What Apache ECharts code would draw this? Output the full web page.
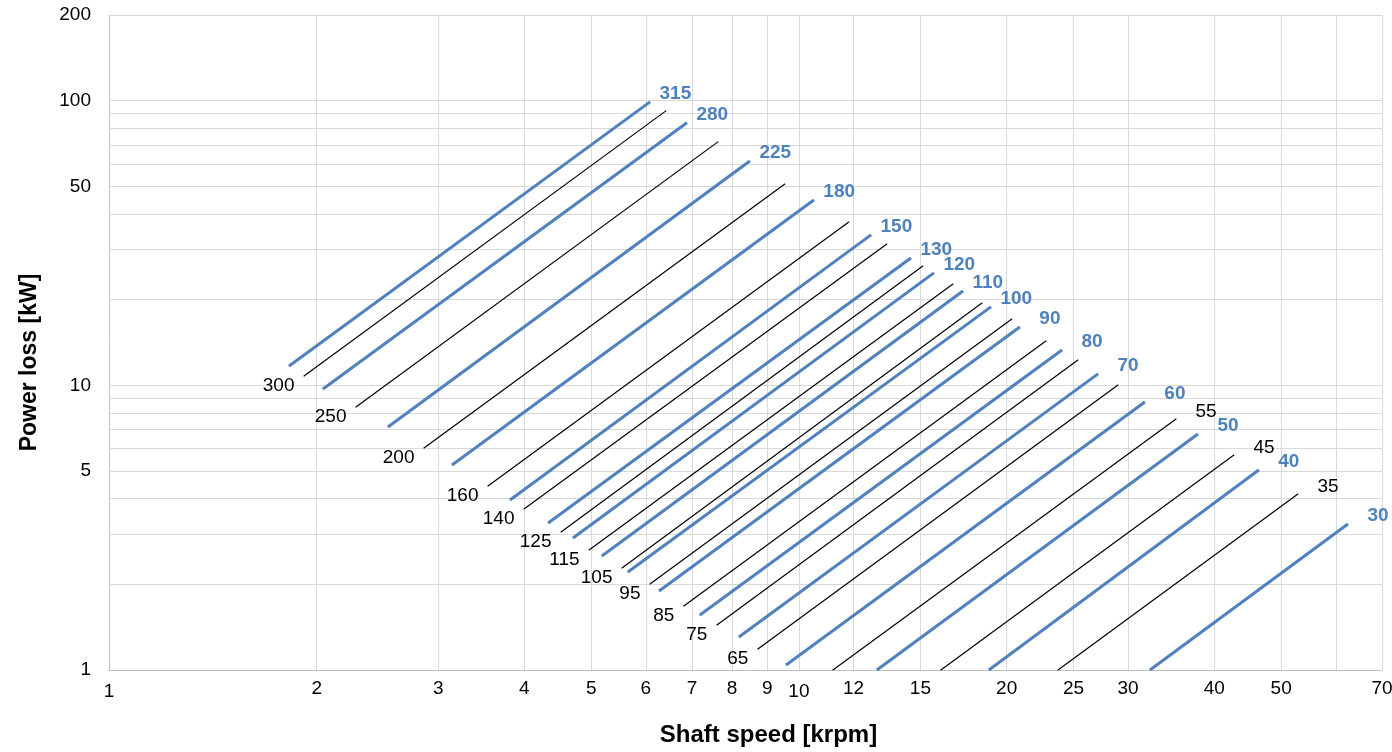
<!DOCTYPE html>
<html>
<head>
<meta charset="utf-8">
<script src="https://cdn.jsdelivr.net/npm/echarts@6/dist/echarts.min.js"></script>
<style>
html,body{margin:0;padding:0;background:#ffffff;}
#chart{width:1392px;height:752px;}
</style>
</head>
<body>
<div id="chart"></div>
<script>
// ---- Data (shaft speed in krpm, power loss in kW) ----
// Main sizes (blue lines, bold labels at the upper end)
const mainSizes   = ['315','280','225','180','150','130','120','110','100','90','80','70','60','50','40','30'];
const mainSpeedLo = [1.824, 2.042, 2.537, 3.142, 3.813, 4.33, 4.705, 5.18, 5.65, 6.27, 7.185, 8.185, 9.58, 12.97, 18.85, 32.27];
const mainLossLo  = [11.70, 9.714, 7.14, 5.25, 3.956, 3.285, 2.909, 2.515, 2.21, 1.895, 1.561, 1.306, 1.041, 1, 1, 1];
const mainSpeedHi = [6.083, 6.88, 8.49, 10.51, 12.72, 14.53, 15.69, 17.29, 18.98, 20.9, 24.06, 27.13, 31.72, 37.87, 46.4, 62.47];
const mainLossHi  = [99.04, 83.6, 61.4, 44.8, 33.77, 28.03, 24.83, 21.46, 18.86, 16.04, 13.31, 10.97, 8.74, 6.75, 5.04, 3.258];

// Intermediate sizes (thin black lines)
const midSizes   = ['300','250','200','160','140','125','115','105','95','85','75','65','55','45','35'];
const midSpeedLo = [1.917, 2.28, 2.861, 3.542, 3.995, 4.52, 4.963, 5.54, 6.083, 6.81, 7.605, 8.72, 11.2, 16.06, 23.74];
const midLossLo  = [10.79, 8.40, 6.026, 4.43, 3.68, 3.053, 2.64, 2.283, 2.005, 1.678, 1.439, 1.185, 1, 1, 1];
const midSpeedHi = [6.415, 7.63, 9.54, 11.81, 13.41, 15.12, 16.72, 18.42, 20.35, 22.8, 25.37, 29.0, 35.2, 42.7, 52.87];
const midLossHi  = [92.1, 71.67, 51.0, 37.5, 31.4, 26.27, 22.7, 19.48, 17.11, 14.32, 12.28, 10.03, 7.62, 5.69, 4.153];

// Axes
const xMin = 1, xMax = 70, yMin = 1, yMax = 200;
const xGridValues = [1,2,3,4,5,6,7,8,9,10,12,15,20,25,30,40,50,60,70];
const xTickLabels = [1,2,3,4,5,6,7,8,9,10,12,15,20,25,30,40,50,70];
const yGridValues = [1,2,3,4,5,6,7,8,9,10,20,30,40,50,60,70,80,90,100,200];
const yTickLabels = [1,5,10,50,100,200];
const xTitle = 'Shaft speed [krpm]';
const yTitle = 'Power loss [kW]';

// ---- Styles ----
const FONT = 'Liberation Sans, Arial, sans-serif';
const BLUE = '#4F81BD';
const GRID = '#D9D9D9';
const AXIS = '#BFBFBF';
const FS = 19;

function isPow10(v){ const l = Math.log10(v); return Math.abs(l - Math.round(l)) < 1e-9; }
function union(a, b){ return Array.from(new Set(a.concat(b))).sort((p,q)=>p-q); }

const xMarks = union(xGridValues, xTickLabels).map(v => ({
  xAxis: v,
  lineStyle: { color: (xGridValues.includes(v) && v !== xMin) ? GRID : 'rgba(0,0,0,0)', width: 1, type: 'solid' },
  label: {
    show: xTickLabels.includes(v), position: 'start', formatter: String(v),
    distance: isPow10(v) ? 12 : 9,
    color: '#000', fontSize: FS, fontFamily: FONT
  }
}));
const yMarks = union(yGridValues, yTickLabels).map(v => ({
  yAxis: v,
  lineStyle: { color: (yGridValues.includes(v) && v !== yMin) ? GRID : 'rgba(0,0,0,0)', width: 1, type: 'solid' },
  label: {
    show: yTickLabels.includes(v), position: 'start', formatter: String(v),
    distance: 18,
    color: '#000', fontSize: FS, fontFamily: FONT
  }
}));

const series = [{
  type: 'line', name: 'grid', z: 1, silent: true,
  data: [[xMin, yMin]], showSymbol: false, lineStyle: { width: 0 },
  markLine: {
    z: 1, zlevel: 0,
    silent: true, symbol: ['none','none'], animation: false,
    precision: 4,
    emphasis: { disabled: true },
    data: xMarks.concat(yMarks)
  }
}];

function makeLine(name, xLo, yLo, xHi, yHi, color, width, bold, labelAtLow){
  const labelBase = {
    show: true, formatter: name, color: color, fontSize: FS, fontFamily: FONT,
    fontWeight: bold ? 'bold' : 'normal', opacity: 1
  };
  const loItem = { value: [xLo, yLo] };
  const hiItem = { value: [xHi, yHi] };
  if (labelAtLow) {
    loItem.label = Object.assign({}, labelBase, { position: 'left', distance: 9, offset: [0, 10] });
  } else {
    hiItem.label = Object.assign({}, labelBase, {
      position: 'right', distance: name.length === 3 ? 9 : 19, offset: [0, bold ? -8 : -7]
    });
  }
  return {
    type: 'line', name: name, z: bold ? 4 : 3, silent: true,
    data: [loItem, hiItem],
    showSymbol: true, showAllSymbol: true, symbol: 'circle', symbolSize: 1,
    itemStyle: { color: color },
    label: { show: false },
    lineStyle: { color: color, width: width },
    emphasis: { disabled: true },
    clip: true, animation: false
  };
}

mainSizes.forEach((s, i) => {
  series.push(makeLine(s, mainSpeedLo[i], mainLossLo[i], mainSpeedHi[i], mainLossHi[i], BLUE, 3, true, false));
});
midSizes.forEach((s, i) => {
  series.push(makeLine(s, midSpeedLo[i], midLossLo[i], midSpeedHi[i], midLossHi[i], '#000000', 1.2, false, midLossLo[i] > 1));
});

const chart = echarts.init(document.getElementById('chart'), null, { renderer: 'canvas' });
chart.setOption({
  animation: false,
  backgroundColor: '#ffffff',
  textStyle: { fontFamily: FONT },
  grid: { left: 109, right: 10, top: 15, bottom: 82, containLabel: false },
  xAxis: {
    type: 'log', logBase: 10, min: xMin, max: xMax,
    name: xTitle, nameLocation: 'middle', nameGap: 53,
    nameTextStyle: { fontSize: 24, fontWeight: 'bold', color: '#000', fontFamily: FONT, padding: [0,0,0,46] },
    axisLine: { show: true, lineStyle: { color: AXIS, width: 1 } },
    axisTick: { show: false }, axisLabel: { show: false },
    splitLine: { show: false }, minorSplitLine: { show: false }
  },
  yAxis: {
    type: 'log', logBase: 10, min: yMin, max: yMax,
    name: yTitle, nameLocation: 'middle', nameGap: 68,
    nameTextStyle: { fontSize: 23, fontWeight: 'bold', color: '#000', fontFamily: FONT, padding: [0,40,0,0] },
    axisLine: { show: true, lineStyle: { color: AXIS, width: 1 } },
    axisTick: { show: false }, axisLabel: { show: false },
    splitLine: { show: false }, minorSplitLine: { show: false }
  },
  tooltip: { show: false },
  series: series
});
</script>
</body>
</html>
